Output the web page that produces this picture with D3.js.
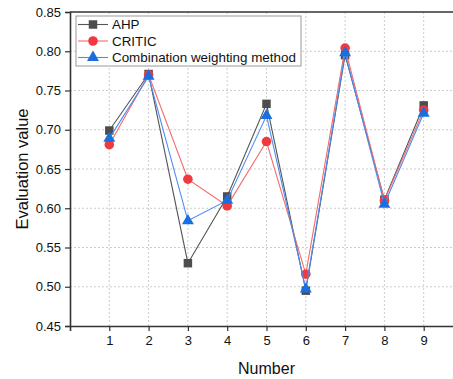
<!DOCTYPE html>
<html>
<head>
<meta charset="utf-8">
<script src="https://cdn.jsdelivr.net/npm/d3@7"></script>
<style>
  html, body { margin: 0; padding: 0; background: #fff; }
  svg { display: block; font-family: "Liberation Sans", Arial, sans-serif; }
</style>
</head>
<body>
<div id="chart"></div>
<script>
const numbers = [1, 2, 3, 4, 5, 6, 7, 8, 9];
const ahp = [0.699, 0.771, 0.530, 0.615, 0.733, 0.495, 0.795, 0.611, 0.731];
const critic = [0.681, 0.770, 0.637, 0.603, 0.685, 0.516, 0.804, 0.610, 0.725];
const combined = [0.689, 0.768, 0.584, 0.610, 0.718, 0.497, 0.798, 0.605, 0.721];
const yTicks = [0.45, 0.50, 0.55, 0.60, 0.65, 0.70, 0.75, 0.80, 0.85];

const series = [
  { label: 'AHP', data: ahp, color: '#4d4d4d', line: '#555555', shape: d3.symbolSquare, size: 72 },
  { label: 'CRITIC', data: critic, color: '#f03a3f', line: '#f46a6d', shape: d3.symbolCircle, size: 72 },
  { label: 'Combination weighting method', data: combined, color: '#1a6fe0', line: '#4a8ef0', shape: d3.symbolTriangle, size: 62 }
];

const W = 453, H = 379;
const margin = { top: 12, right: -10, bottom: 53, left: 70 };
const width = W - margin.left - margin.right;
const height = H - margin.top - margin.bottom;

const svg = d3.select('#chart').append('svg')
  .attr('width', W)
  .attr('height', H);

const g = svg.append('g')
  .attr('transform', `translate(${margin.left},${margin.top})`);

const x = d3.scaleLinear().domain([0, 10]).range([0, width]);
const y = d3.scaleLinear().domain([0.45, 0.85]).range([height, 0]);

// grid
g.append('g').selectAll('line')
  .data(yTicks.slice(1, -1))
  .join('line')
  .attr('x1', 0).attr('x2', width)
  .attr('y1', d => y(d)).attr('y2', d => y(d))
  .attr('stroke', '#cccccc').attr('stroke-dasharray', '2,2');

g.append('g').selectAll('line')
  .data(numbers)
  .join('line')
  .attr('x1', d => x(d)).attr('x2', d => x(d))
  .attr('y1', 0).attr('y2', height)
  .attr('stroke', '#cccccc').attr('stroke-dasharray', '2,2');

// axes
const xAxis = g.append('g')
  .attr('transform', `translate(0,${height})`)
  .call(d3.axisBottom(x).tickValues(numbers).tickFormat(d3.format('d')).tickSize(5).tickPadding(5));

const yAxis = g.append('g')
  .call(d3.axisLeft(y).tickValues(yTicks).tickFormat(d3.format('.2f')).tickSize(5).tickPadding(4));

[xAxis, yAxis].forEach(a => {
  a.select('.domain').attr('stroke', '#333').attr('stroke-width', 1.6);
  a.selectAll('.tick line').attr('stroke', '#333').attr('stroke-width', 1.2);
  a.selectAll('.tick text').attr('fill', '#111').style('font-size', '13px');
});

// top frame
g.append('line')
  .attr('x1', 0).attr('x2', width)
  .attr('y1', 0).attr('y2', 0)
  .attr('stroke', '#333').attr('stroke-width', 1.6);

// lines and markers
series.forEach(s => {
  g.append('path')
    .datum(s.data)
    .attr('fill', 'none')
    .attr('stroke', s.line)
    .attr('stroke-width', 1.1)
    .attr('d', d3.line().x((d, i) => x(numbers[i])).y(d => y(d)));

  g.selectAll(null)
    .data(s.data)
    .join('path')
    .attr('transform', (d, i) => `translate(${x(numbers[i])},${y(d)})`)
    .attr('d', d3.symbol(s.shape, s.size))
    .attr('fill', s.color);
});

// titles
svg.append('text')
  .attr('x', margin.left + width / 2)
  .attr('y', 374)
  .attr('text-anchor', 'middle')
  .attr('fill', '#111')
  .style('font-size', '16px')
  .text('Number');

svg.append('text')
  .attr('transform', `translate(28,${margin.top + height / 2}) rotate(-90)`)
  .attr('text-anchor', 'middle')
  .attr('fill', '#111')
  .style('font-size', '16.5px')
  .text('Evaluation value');

// legend
const legend = svg.append('g').attr('transform', 'translate(76,16)');
legend.append('rect')
  .attr('width', 225).attr('height', 50)
  .attr('fill', '#fff')
  .attr('stroke', '#999').attr('stroke-width', 1);

series.forEach((s, i) => {
  const row = legend.append('g').attr('transform', `translate(0,${8.5 + i * 16.5})`);
  row.append('line')
    .attr('x1', 2).attr('x2', 32)
    .attr('stroke', s.line).attr('stroke-width', 1.1);
  row.append('path')
    .attr('transform', 'translate(17,0)')
    .attr('d', d3.symbol(s.shape, s.size))
    .attr('fill', s.color);
  row.append('text')
    .attr('x', 36).attr('y', 0)
    .attr('dy', '0.35em')
    .attr('fill', '#111')
    .style('font-size', '13.4px')
    .text(s.label);
});
</script>
</body>
</html>
